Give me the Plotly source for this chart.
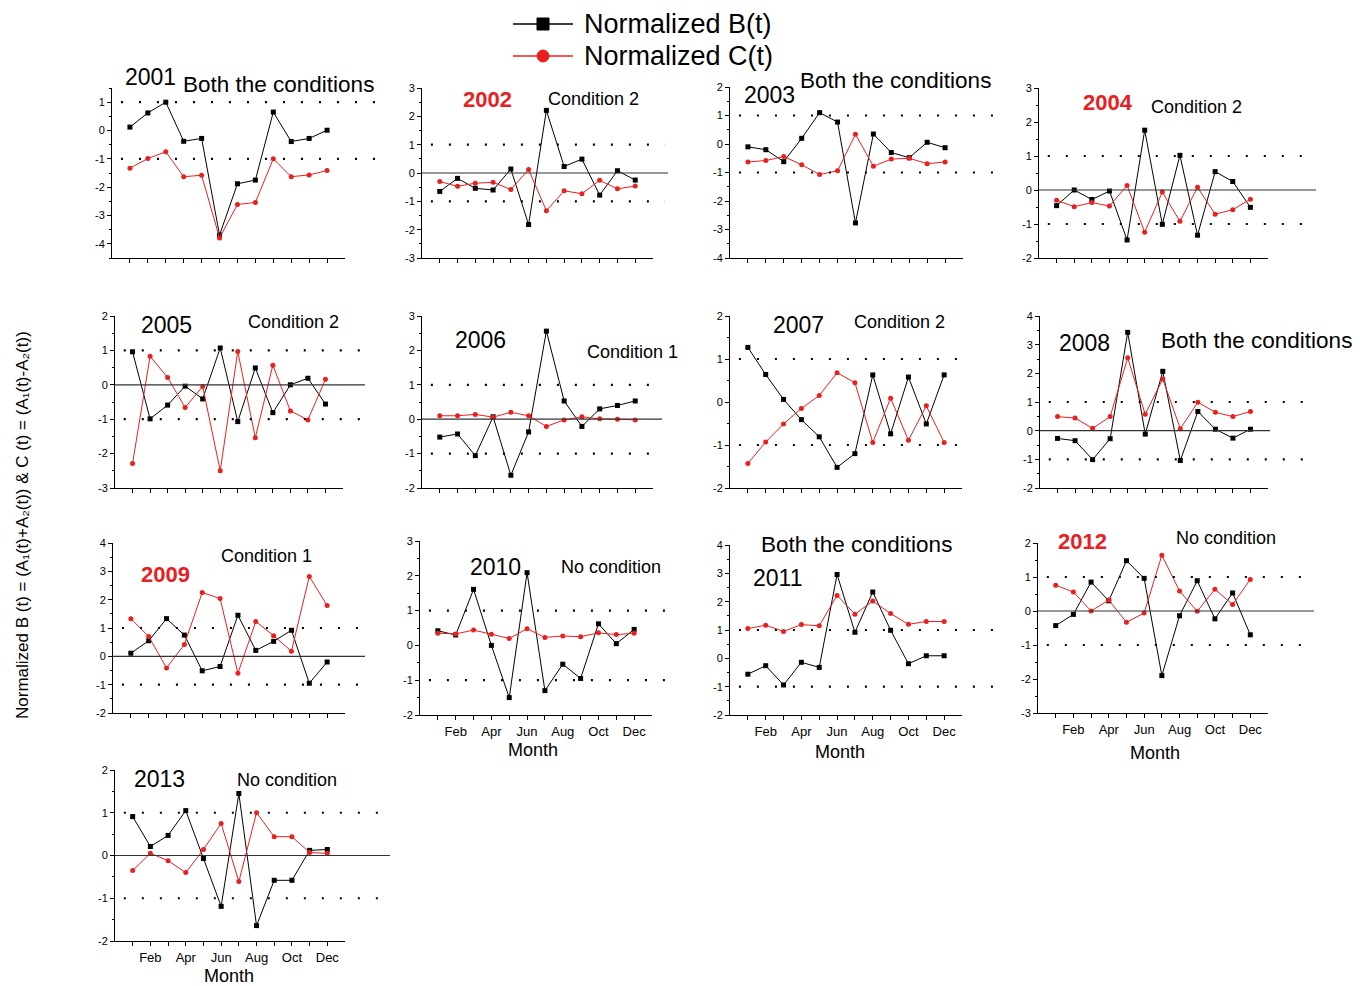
import plotly.graph_objects as go

W, H = 1360, 986
OFF = 8  # page body margin in the browser
FW, FH = W - OFF, H - OFF
FONT = "Arial, Liberation Sans, sans-serif"
RED = "#e8201f"

months = list(range(1, 13))
label_months = [2, 4, 6, 8, 10, 12]
label_month_text = ["Feb", "Apr", "Jun", "Aug", "Oct", "Dec"]
other_months = [1, 3, 5, 7, 9, 11]

years = [2001, 2002, 2003, 2004, 2005, 2006, 2007, 2008, 2009, 2010, 2011, 2012, 2013]

B_2001 = [0.12, 0.62, 1.0, -0.38, -0.28, -3.69, -1.88, -1.75, 0.65, -0.39, -0.28, 0.01]
C_2001 = [-1.33, -0.99, -0.75, -1.63, -1.58, -3.79, -2.61, -2.54, -1.0, -1.63, -1.57, -1.41]
B_2002 = [-0.65, -0.19, -0.54, -0.6, 0.14, -1.82, 2.21, 0.23, 0.49, -0.78, 0.08, -0.25]
C_2002 = [-0.3, -0.47, -0.36, -0.33, -0.58, 0.12, -1.33, -0.63, -0.73, -0.26, -0.56, -0.46]
B_2003 = [-0.1, -0.2, -0.62, 0.2, 1.1, 0.77, -2.77, 0.35, -0.3, -0.48, 0.06, -0.13]
C_2003 = [-0.63, -0.58, -0.44, -0.73, -1.07, -0.94, 0.34, -0.78, -0.53, -0.5, -0.69, -0.63]
B_2004 = [-0.46, 0.0, -0.28, -0.03, -1.47, 1.76, -1.01, 1.02, -1.33, 0.54, 0.25, -0.51]
C_2004 = [-0.3, -0.49, -0.37, -0.47, 0.13, -1.24, -0.06, -0.92, 0.08, -0.71, -0.58, -0.27]
B_2005 = [0.96, -0.99, -0.59, -0.04, -0.41, 1.07, -1.07, 0.49, -0.81, 0.0, 0.19, -0.56]
C_2005 = [-2.29, 0.83, 0.21, -0.66, -0.05, -2.5, 0.97, -1.54, 0.57, -0.76, -1.02, 0.16]
B_2006 = [-0.52, -0.43, -1.06, 0.07, -1.63, -0.37, 2.56, 0.53, -0.21, 0.3, 0.4, 0.53]
C_2006 = [0.1, 0.1, 0.14, 0.06, 0.2, 0.1, -0.21, -0.02, 0.07, 0.01, 0.0, -0.02]
B_2007 = [1.27, 0.64, 0.06, -0.41, -0.81, -1.52, -1.2, 0.63, -0.74, 0.58, -0.51, 0.63]
C_2007 = [-1.43, -0.93, -0.51, -0.15, 0.15, 0.68, 0.45, -0.94, 0.09, -0.89, -0.09, -0.94]
B_2008 = [-0.27, -0.35, -1.01, -0.28, 3.43, -0.12, 2.07, -1.04, 0.67, 0.05, -0.26, 0.05]
C_2008 = [0.49, 0.44, 0.08, 0.49, 2.54, 0.57, 1.8, 0.07, 0.99, 0.64, 0.49, 0.67]
B_2009 = [0.11, 0.55, 1.33, 0.75, -0.51, -0.36, 1.45, 0.21, 0.53, 0.92, -0.95, -0.2]
C_2009 = [1.33, 0.7, -0.41, 0.42, 2.25, 2.04, -0.6, 1.23, 0.73, 0.18, 2.82, 1.79]
B_2010 = [0.42, 0.3, 1.61, 0.0, -1.5, 2.09, -1.3, -0.54, -0.95, 0.62, 0.05, 0.46]
C_2010 = [0.35, 0.33, 0.44, 0.32, 0.2, 0.48, 0.23, 0.27, 0.25, 0.36, 0.31, 0.35]
B_2011 = [-0.56, -0.26, -0.94, -0.14, -0.32, 2.96, 0.92, 2.34, 0.99, -0.19, 0.09, 0.09]
C_2011 = [1.05, 1.17, 0.95, 1.19, 1.15, 2.22, 1.56, 2.02, 1.58, 1.2, 1.3, 1.3]
B_2012 = [-0.43, -0.1, 0.85, 0.3, 1.48, 0.96, -1.9, -0.14, 0.89, -0.23, 0.53, -0.7]
C_2012 = [0.76, 0.56, 0.0, 0.32, -0.33, -0.06, 1.64, 0.59, -0.01, 0.64, 0.19, 0.93]
B_2013 = [0.91, 0.21, 0.47, 1.05, -0.07, -1.19, 1.45, -1.64, -0.58, -0.58, 0.12, 0.14]
C_2013 = [-0.35, 0.05, -0.12, -0.4, 0.14, 0.75, -0.61, 1.0, 0.44, 0.44, 0.07, 0.05]

B_series = [B_2001, B_2002, B_2003, B_2004, B_2005, B_2006, B_2007,
            B_2008, B_2009, B_2010, B_2011, B_2012, B_2013]
C_series = [C_2001, C_2002, C_2003, C_2004, C_2005, C_2006, C_2007,
            C_2008, C_2009, C_2010, C_2011, C_2012, C_2013]

y_ranges = [(-4.5, 1.5), (-3, 3), (-4, 2), (-2, 3), (-3, 2), (-2, 3), (-2, 2),
            (-2, 4), (-2, 4), (-2, 3), (-2, 4), (-3, 2), (-2, 2)]
conditions = ["Both the conditions", "Condition 2", "Both the conditions", "Condition 2",
              "Condition 2", "Condition 1", "Condition 2", "Both the conditions",
              "Condition 1", "No condition", "Both the conditions", "No condition",
              "No condition"]
red_years = [2002, 2004, 2009, 2012]
zero_line_years = [2002, 2004, 2005, 2006, 2008, 2009, 2012, 2013]
month_label_years = [2010, 2011, 2012, 2013]
threshold = [1, -1]
legend_names = ["Normalized B(t)", "Normalized C(t)"]
y_title = "Normalized B (t) = (A\u2081(t)+A\u2082(t)) & C (t) = (A\u2081(t)-A\u2082(t))"


def fx(px):
    return (px - OFF) / FW


def fy(py):
    return 1 - (py - OFF) / FH


# ---- layout geometry (pixels in the page) ----
boxes = {  # left, right, top, bottom
    2001: (112, 345, 88, 258), 2002: (422, 653, 88, 258), 2003: (730, 963, 87, 258),
    2004: (1039, 1268, 88, 258), 2005: (115, 343, 316, 488), 2006: (422, 653, 316, 488),
    2007: (730, 962, 316, 488), 2008: (1040, 1268, 316, 488), 2009: (113, 345, 543, 713),
    2010: (420, 652, 541, 715), 2011: (730, 962, 545, 715), 2012: (1038, 1268, 543, 713),
    2013: (115, 345, 770, 941),
}
dot_end = {2001: 380, 2002: 665, 2003: 998, 2004: 1310, 2005: 365, 2006: 662, 2007: 970,
           2008: 1310, 2009: 365, 2010: 665, 2011: 1000, 2012: 1310, 2013: 385}
zero_end = {2002: 668, 2004: 1316, 2005: 365, 2006: 662, 2008: 1270, 2009: 365,
            2012: 1314, 2013: 390}
year_pos = {2001: (150, 77), 2002: (487, 99), 2003: (769, 95), 2004: (1108, 103),
            2005: (166, 325), 2006: (480, 340), 2007: (798, 325), 2008: (1084, 343),
            2009: (165, 574), 2010: (495, 567), 2011: (777, 578), 2012: (1082, 541),
            2013: (159, 779)}
cond_pos = {2001: (278, 84), 2002: (593, 99), 2003: (895, 81), 2004: (1196, 107),
            2005: (293, 322), 2006: (632, 352), 2007: (899, 322), 2008: (1256, 340),
            2009: (266, 556), 2010: (611, 567), 2011: (856, 544), 2012: (1226, 538),
            2013: (287, 780)}
month_title_pos = {2010: (533, 750), 2011: (840, 752), 2012: (1155, 753), 2013: (229, 976)}

fig = go.Figure()
shapes = []
annotations = []
layout_axes = {}

for i, yr in enumerate(years):
    k = i + 1
    xa = "x" if k == 1 else f"x{k}"
    ya = "y" if k == 1 else f"y{k}"
    l, r, t, b = boxes[yr]
    lo, hi = y_ranges[i]

    fig.add_trace(go.Scatter(
        x=months, y=B_series[i], xaxis=xa, yaxis=ya, mode="lines+markers",
        name=legend_names[0], showlegend=False,
        line=dict(color="black", width=1), marker=dict(symbol="square", size=5, color="black")))
    fig.add_trace(go.Scatter(
        x=months, y=C_series[i], xaxis=xa, yaxis=ya, mode="lines+markers",
        name=legend_names[1], showlegend=False,
        line=dict(color=RED, width=1), marker=dict(symbol="circle", size=5, color=RED)))

    labeled = yr in month_label_years
    xkey = "xaxis" if k == 1 else f"xaxis{k}"
    ykey = "yaxis" if k == 1 else f"yaxis{k}"
    layout_axes[xkey] = dict(
        domain=[fx(l), fx(r)], anchor=ya, range=[0, 13], showgrid=False, zeroline=False,
        showline=True, linecolor="black", linewidth=1, ticks="outside", ticklen=4,
        tickcolor="black", tickmode="array", tickvals=label_months, ticktext=label_month_text,
        minor=dict(ticks="outside", ticklen=4, tickvals=other_months, tickcolor="black",
                   showgrid=False),
        showticklabels=labeled, tickfont=dict(size=13, family=FONT, color="black"),
        automargin=False, fixedrange=True)
    yticks = [v for v in range(-5, 6) if lo <= v <= hi]
    layout_axes[ykey] = dict(
        domain=[fy(b), fy(t)], anchor=xa, range=[lo, hi], showgrid=False,
        zeroline=False, showline=True, linecolor="black", linewidth=1, ticks="outside",
        ticklen=4, tickcolor="black", tickmode="array", tickvals=yticks,
        ticktext=[str(v) for v in yticks],
        minor=dict(ticks="outside", ticklen=2, dtick=0.5, tick0=0, tickcolor="black",
                   showgrid=False),
        tickfont=dict(size=11, family=FONT, color="black"), automargin=False, fixedrange=True)

    x0_frac = 0.5 / 13
    for v in threshold:
        yf = (v - lo) / (hi - lo)
        shapes.append(dict(type="line", xref=f"{xa} domain", yref=f"{ya} domain",
                           x0=x0_frac, x1=(dot_end[yr] - l) / (r - l), y0=yf, y1=yf,
                           line=dict(color="black", width=2.2, dash="2px,16px")))
    if yr in zero_line_years:
        yf = (0 - lo) / (hi - lo)
        shapes.append(dict(type="line", xref=f"{xa} domain", yref=f"{ya} domain",
                           x0=0, x1=(zero_end[yr] - l) / (r - l), y0=yf, y1=yf,
                           line=dict(color="#333333", width=1.2)))

    red = yr in red_years
    px, py = year_pos[yr]
    annotations.append(dict(
        text=f"<b>{yr}</b>" if red else str(yr), x=fx(px), y=fy(py), xref="paper",
        yref="paper", xanchor="center", yanchor="middle", showarrow=False,
        font=dict(size=22 if red else 23, family=FONT, color=RED if red else "black")))
    cx, cy = cond_pos[yr]
    cond = conditions[i]
    annotations.append(dict(
        text=cond, x=fx(cx), y=fy(cy), xref="paper", yref="paper", xanchor="center",
        yanchor="middle", showarrow=False,
        font=dict(size=22.5 if cond.startswith("Both") else 18, family=FONT, color="black")))
    if labeled:
        mx, my = month_title_pos[yr]
        annotations.append(dict(
            text="Month", x=fx(mx), y=fy(my), xref="paper", yref="paper", xanchor="center",
            yanchor="middle", showarrow=False, font=dict(size=18, family=FONT, color="black")))

# y-axis title
annotations.append(dict(
    text=y_title, x=fx(22), y=fy(525), xref="paper", yref="paper", textangle=-90,
    showarrow=False, xanchor="center", yanchor="middle",
    font=dict(size=17, family=FONT, color="black")))

# legend (drawn as line samples + markers + text)
legend_rows = [(24, "black", "rect"), (56, RED, "circle")]
for (ry, col, sym), name in zip(legend_rows, legend_names):
    shapes.append(dict(type="line", xref="paper", yref="paper", x0=fx(513), x1=fx(573),
                       y0=fy(ry), y1=fy(ry), line=dict(color=col, width=1.3)))
    shapes.append(dict(type=sym, xref="paper", yref="paper", x0=fx(537), x1=fx(549),
                       y0=fy(ry + 6), y1=fy(ry - 6), fillcolor=col, line=dict(color=col, width=1)))
    annotations.append(dict(text=name, x=fx(582), y=fy(ry), xref="paper", yref="paper",
                            xanchor="left", yanchor="middle", showarrow=False,
                            font=dict(size=27, family=FONT, color="black")))

fig.update_layout(
    template="none",
    width=FW, height=FH, margin=dict(l=0, r=0, t=0, b=0, pad=0, autoexpand=False),
    paper_bgcolor="white", plot_bgcolor="white",
    font=dict(family=FONT, color="black"),
    showlegend=False,
    shapes=shapes, annotations=annotations, **layout_axes)

fig.write_html("out.html")
